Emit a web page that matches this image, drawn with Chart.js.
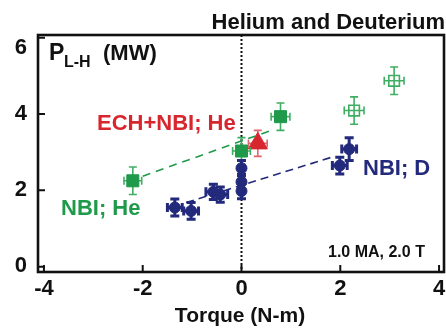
<!DOCTYPE html>
<html><head><meta charset="utf-8">
<script src="https://cdn.jsdelivr.net/npm/chart.js@4/dist/chart.umd.min.js"></script>
<style>html,body{margin:0;padding:0;background:#fff}#wrap{width:446px;height:334px;position:relative}</style>
</head><body><div id="wrap"><canvas id="c"></canvas></div>
<script>
// ---- data ----
const xTicks = [-4, -2, 0, 2, 4];
const yTicks = [0, 2, 4, 6];

// NBI; He (filled squares)
const heNbiX = [-2.2, 0.0, 0.79];
const heNbiY = [2.25, 3.03, 3.93];
const heNbiXErr = [0.18, 0.18, 0.19];
const heNbiYErr = [0.36, 0.35, 0.36];
// He (open squares)
const heOpenX = [2.28, 3.09];
const heOpenY = [4.09, 4.87];
const heOpenXErr = [0.2, 0.2];
const heOpenYErr = [0.36, 0.36];
// ECH+NBI; He (triangle)
const echX = [0.33];
const echY = [3.23];
const echXErr = [0.19];
const echYErr = [0.34];
// NBI; D (circles)
const dX = [-1.35, -1.02, -0.57, -0.43, 0.0, 0.0, 0.0, 1.99, 2.18];
const dY = [1.55, 1.46, 1.96, 1.89, 2.58, 2.22, 1.98, 2.65, 3.08];
const dXErr = [0.15, 0.15, 0.15, 0.15, 0.0, 0.0, 0.0, 0.15, 0.15];
const dYErr = [0.22, 0.22, 0.2, 0.2, 0.2, 0.2, 0.2, 0.22, 0.3];
// fit lines
const heFitX = [-2.0, 0.6];
const heFitY = [2.37, 3.57];
const dFitX = [-1.12, 1.88];
const dFitY = [1.68, 2.89];

const GREEN = '#1f9a4b', GREEN_OPEN = '#3fae62', RED = '#d8262e', NAVY = '#232a7c';
const FONT = "'Liberation Sans', Arial, Helvetica, sans-serif";

const pts = (xs, ys) => xs.map((v, i) => ({x: v, y: ys[i]}));

const plugin = {
  id: 'custom',
  beforeDatasetsDraw(chart) {
    const {ctx, scales: {x}, chartArea: a} = chart;
    ctx.save();
    ctx.strokeStyle = '#111'; ctx.lineWidth = 2; ctx.setLineDash([2, 2]);
    const x0 = x.getPixelForValue(0);
    ctx.beginPath(); ctx.moveTo(x0, a.top); ctx.lineTo(x0, a.bottom); ctx.stroke();
    ctx.restore();
  },
  beforeDatasetDraw(chart, args) {
    const ds = chart.data.datasets[args.index];
    if (!ds.errX) return;
    const {ctx, scales: {x, y}} = chart;
    ctx.save();
    ctx.strokeStyle = ds.errColor; ctx.lineWidth = ds.errWidth;
    ds.data.forEach((p, i) => {
      const px = x.getPixelForValue(p.x), py = y.getPixelForValue(p.y);
      const ex = ds.errX[i], ey = ds.errY[i];
      const c = ds.capSize;
      ctx.beginPath();
      if (ey) {
        const t = y.getPixelForValue(p.y + ey), b = y.getPixelForValue(p.y - ey);
        ctx.moveTo(px, t); ctx.lineTo(px, b);
        ctx.moveTo(px - c, t); ctx.lineTo(px + c, t);
        ctx.moveTo(px - c, b); ctx.lineTo(px + c, b);
      }
      if (ex) {
        const l = x.getPixelForValue(p.x - ex), r = x.getPixelForValue(p.x + ex);
        ctx.moveTo(l, py); ctx.lineTo(r, py);
        ctx.moveTo(l, py - c); ctx.lineTo(l, py + c);
        ctx.moveTo(r, py - c); ctx.lineTo(r, py + c);
      }
      ctx.stroke();
    });
    ctx.restore();
  },
  afterDatasetsDraw(chart) {
    const {ctx, scales: {x, y}, chartArea: a} = chart;
    ctx.save();
    ctx.strokeStyle = '#111'; ctx.lineWidth = 2.6;
    ctx.strokeRect(a.left, a.top, a.right - a.left, a.bottom - a.top);
    ctx.lineWidth = 2;
    ctx.beginPath();
    xTicks.forEach(v => { const px = x.getPixelForValue(v); if (px > a.left + 2 && px < a.right - 2) { ctx.moveTo(px, a.bottom); ctx.lineTo(px, a.bottom - 7); } });
    yTicks.forEach(v => { const py = y.getPixelForValue(v); if (py > a.top + 2 && py < a.bottom - 2) { ctx.moveTo(a.left, py); ctx.lineTo(a.left + 7, py); } });
    ctx.stroke();
    // tick labels
    ctx.fillStyle = '#111';
    ctx.font = 'bold 22px ' + FONT;
    ctx.textAlign = 'center'; ctx.textBaseline = 'middle';
    xTicks.forEach(v => ctx.fillText(String(v), x.getPixelForValue(v), a.bottom + 17));
    ctx.textAlign = 'right';
    yTicks.forEach(v => {
      const py = Math.min(Math.max(y.getPixelForValue(v), a.top + 13), a.bottom - 6);
      ctx.fillText(String(v), 27, py);
    });
    ctx.restore();
  },
  afterDraw(chart) {
    const {ctx} = chart;
    ctx.save();
    ctx.textBaseline = 'alphabetic';
    ctx.fillStyle = '#111';
    ctx.font = 'bold 22px ' + FONT;
    ctx.textAlign = 'right';
    ctx.fillText('Helium and Deuterium', 445, 29);
    ctx.textAlign = 'center';
    ctx.font = 'bold 21px ' + FONT;
    ctx.fillText('Torque (N-m)', 240, 322);
    ctx.textAlign = 'left';
    ctx.font = 'bold 23px ' + FONT;
    ctx.fillText('P', 49, 60);
    ctx.font = 'bold 16px ' + FONT;
    ctx.fillText('L-H', 64, 67);
    ctx.font = 'bold 22px ' + FONT;
    ctx.fillText('(MW)', 103, 60);
    ctx.font = 'bold 16px ' + FONT;
    ctx.fillText('1.0 MA, 2.0 T', 328, 257);
    ctx.font = 'bold 22px ' + FONT;
    ctx.fillStyle = RED;
    ctx.fillText('ECH+NBI; He', 97, 130);
    ctx.fillStyle = GREEN;
    ctx.fillText('NBI; He', 61, 215);
    ctx.fillStyle = NAVY;
    ctx.fillText('NBI; D', 363, 175);
    ctx.restore();
  }
};

new Chart(document.getElementById('c'), {
  type: 'scatter',
  data: {
    datasets: [
      {type: 'line', data: pts(dFitX, dFitY), borderColor: NAVY, borderWidth: 1.6, borderDash: [8, 5], pointRadius: 0, fill: false},
      {type: 'line', data: pts(heFitX, heFitY), borderColor: GREEN, borderWidth: 1.6, borderDash: [8, 6], pointRadius: 0, fill: false},
      {label: 'NBI; D', data: pts(dX, dY), pointStyle: 'circle', pointRadius: 5.5, backgroundColor: NAVY, borderColor: NAVY, borderWidth: 1,
        errX: dXErr, errY: dYErr, errColor: NAVY, errWidth: 3, capSize: 4.5},
      {label: 'NBI; He', data: pts(heNbiX, heNbiY), pointStyle: 'rect', pointRadius: 8.5, backgroundColor: GREEN, borderColor: GREEN, borderWidth: 1,
        errX: heNbiXErr, errY: heNbiYErr, errColor: GREEN_OPEN, errWidth: 1.6, capSize: 4},
      {label: 'He open', data: pts(heOpenX, heOpenY), pointStyle: 'rect', pointRadius: 7.5, backgroundColor: 'rgba(0,0,0,0)', borderColor: GREEN_OPEN, borderWidth: 1.6,
        errX: heOpenXErr, errY: heOpenYErr, errColor: GREEN_OPEN, errWidth: 1.6, capSize: 4},
      {label: 'ECH+NBI; He', data: pts(echX, echY), pointStyle: 'triangle', pointRadius: 11, backgroundColor: RED, borderColor: RED, borderWidth: 1,
        errX: echXErr, errY: echYErr, errColor: '#e0666a', errWidth: 1.6, capSize: 4}
    ]
  },
  options: {
    responsive: true, maintainAspectRatio: false, animation: false, devicePixelRatio: 1,
    layout: {autoPadding: false, padding: {top: 35, right: 2, left: 0, bottom: 0}},
    plugins: {legend: {display: false}, tooltip: {enabled: false}, title: {display: false}},
    scales: {
      x: {
        type: 'linear', min: -4.12, max: 4.1,
        grid: {display: false}, border: {display: false},
        afterBuildTicks: s => { s.ticks = xTicks.map(v => ({value: v})); },
        afterFit: s => { s.height = 62; },
        ticks: {display: false}
      },
      y: {
        type: 'linear', min: -0.14, max: 6.07,
        grid: {display: false}, border: {display: false},
        afterBuildTicks: s => { s.ticks = yTicks.map(v => ({value: v})); },
        afterFit: s => { s.width = 38; },
        ticks: {display: false}
      }
    }
  },
  plugins: [plugin]
});
</script></body></html>
